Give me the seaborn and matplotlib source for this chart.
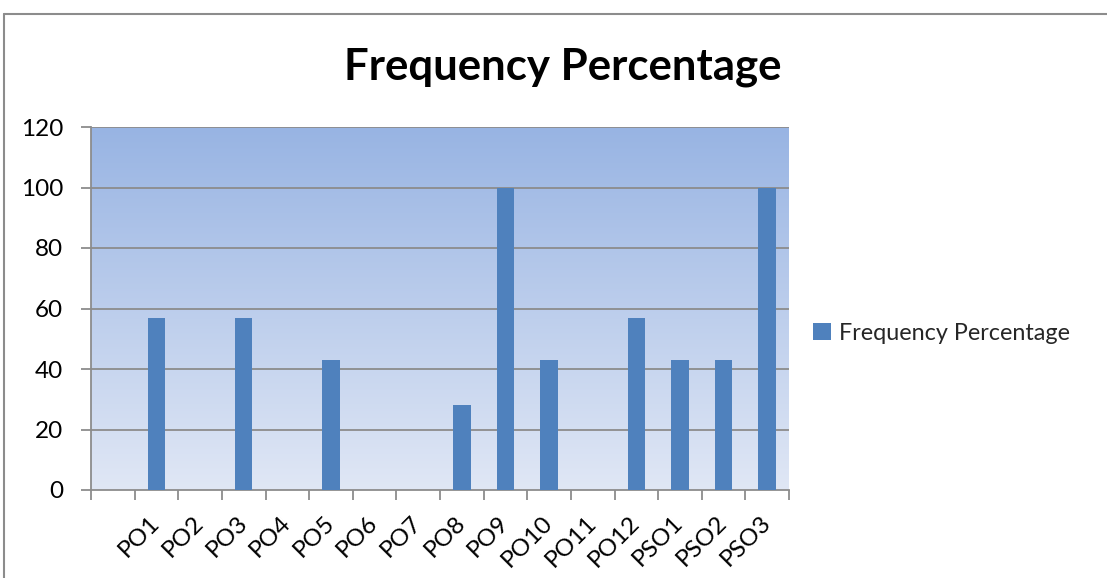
import numpy as np
import matplotlib
matplotlib.use("Agg")
import matplotlib.pyplot as plt
import seaborn as sns
from matplotlib.colors import LinearSegmentedColormap
from matplotlib.patches import Patch
from matplotlib.lines import Line2D

categories = ["", "PO1", "PO2", "PO3", "PO4", "PO5", "PO6", "PO7", "PO8",
              "PO9", "PO10", "PO11", "PO12", "PSO1", "PSO2", "PSO3"]
values = [0, 57, 0, 57, 0, 43, 0, 0, 28, 100, 43, 0, 57, 43, 43, 100]
series_name = "Frequency Percentage"
y_ticks = [0, 20, 40, 60, 80, 100, 120]

sns.set_theme(style="white")
plt.rcParams['font.family'] = ['Lato', 'DejaVu Sans']

W, H = 1107, 578
fig = plt.figure(figsize=(W / 100, H / 100), dpi=100)
ax = fig.add_axes([91 / W, 1 - 490 / H, (789 - 91) / W, (490 - 127) / H])

# gradient background
cmap = LinearSegmentedColormap.from_list("bg", ["#E0E7F5", "#98B4E3"])
grad = np.linspace(0, 1, 256).reshape(-1, 1)
ax.imshow(grad, extent=[0, 1, 0, 1], transform=ax.transAxes, origin="lower",
          cmap=cmap, aspect="auto", zorder=0)

sns.barplot(x=categories, y=values, order=categories, color="#4F81BD",
            width=0.4, saturation=1, ax=ax, zorder=3, linewidth=0)

ax.set_xlim(-0.5, len(categories) - 0.5)
ax.set_ylim(0, 120)
ax.set_yticks(y_ticks)
ax.set_yticklabels([str(t) for t in y_ticks], fontsize=17.5, color="black")
for y in y_ticks[1:]:
    ax.axhline(y, color="#8C8C8C", lw=1.3, zorder=2)

# x ticks: labels at centers, tick marks at boundaries
ax.set_xticks(range(len(categories)))
ax.set_xticklabels(categories, rotation=45, ha="right", va="center",
                   rotation_mode="anchor", fontsize=17.5, color="black")
ax.tick_params(axis="x", which="major", length=0, pad=21)
ax.set_xticks(np.arange(-0.5, len(categories), 1.0), minor=True)
ax.tick_params(axis="x", which="minor", length=7, width=1.3, color="#8C8C8C",
               direction="out", bottom=True)
ax.tick_params(axis="y", which="major", length=7, width=1.3, color="#8C8C8C",
               direction="out", left=True, pad=13)
for s in ["top", "right"]:
    ax.spines[s].set_visible(False)
for s in ["left", "bottom"]:
    ax.spines[s].set_color("#8C8C8C")
    ax.spines[s].set_linewidth(1.3)
ax.set_xlabel("")
ax.set_ylabel("")

fig.text(563 / W, 1 - 67 / H, "Frequency Percentage", ha="center", va="center",
         fontsize=31.5, fontweight="bold", color="black")

handle = Patch(facecolor="#4F81BD", edgecolor="none", label=series_name)
fig.legend(handles=[handle], loc="center left",
           bbox_to_anchor=(792 / W, 1 - 333 / H), frameon=False, fontsize=16.8,
           handlelength=0.75, handleheight=0.75, handletextpad=0.35)

# outer chart border (left and top visible)
fig.add_artist(Line2D([4 / W, 4 / W], [0, 1 - 14 / H], transform=fig.transFigure,
                      color="#8C8C8C", lw=1.5))
fig.add_artist(Line2D([4 / W, 1], [1 - 14 / H, 1 - 14 / H], transform=fig.transFigure,
                      color="#8C8C8C", lw=1.5))

fig.savefig("out.png", dpi=100)
